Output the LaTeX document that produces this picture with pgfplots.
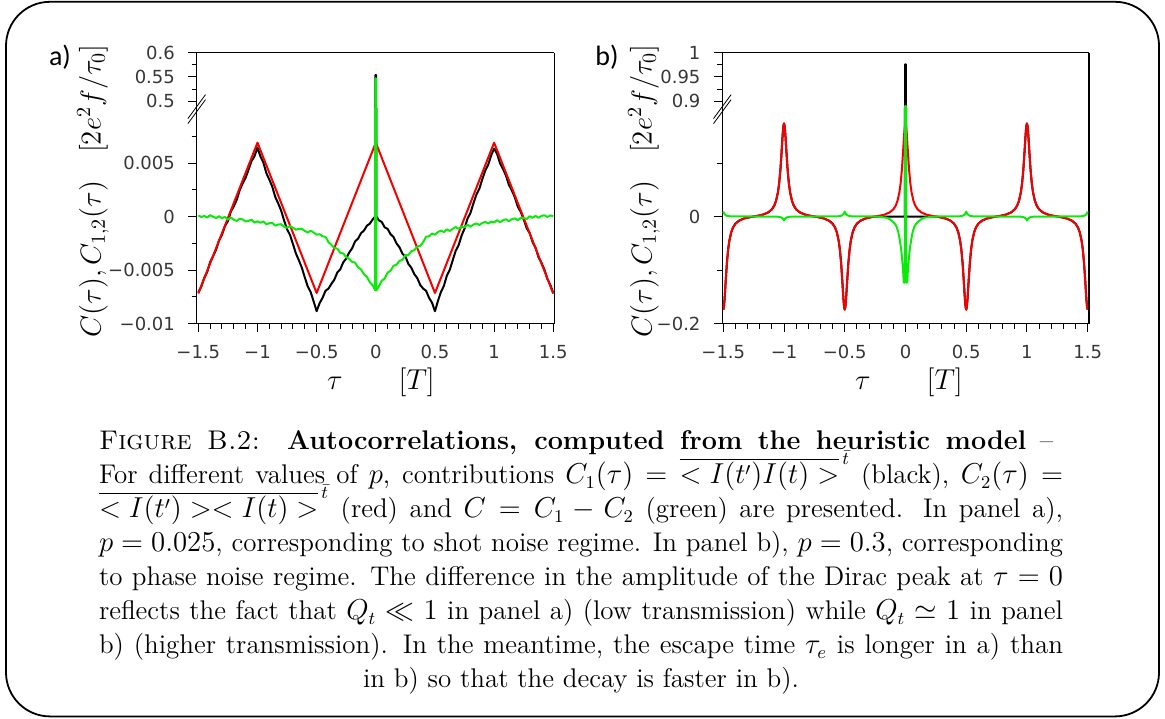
\documentclass[border=0pt]{standalone}
\usepackage{pgfplots}
\pgfplotsset{compat=1.18}
\usepackage{pgfplotstable}
\usepackage{fontspec}
\newfontfamily\dejavu{DejaVu Sans}
\newfontfamily\carlito{Carlito}
\definecolor{tickgray}{RGB}{55,55,55}
\definecolor{cgreen}{RGB}{10,235,10}
\definecolor{cred}{RGB}{245,0,0}

% ---------------- panel a data ----------------
\pgfplotstableread{
t y
-1.500 0.00010
-1.475 -0.00005
-1.450 0.00006
-1.425 -0.00010
-1.400 0.00012
-1.375 -0.00002
-1.350 -0.00014
-1.325 0.00003
-1.300 -0.00015
-1.275 -0.00004
-1.250 -0.00028
-1.225 -0.00010
-1.200 -0.00030
-1.175 -0.00041
-1.150 -0.00020
-1.125 -0.00028
-1.100 -0.00046
-1.075 -0.00040
-1.050 -0.00030
-1.025 -0.00057
-1.000 -0.00045
-0.975 -0.00058
-0.950 -0.00046
-0.925 -0.00073
-0.900 -0.00063
-0.875 -0.00060
-0.850 -0.00085
-0.825 -0.00075
-0.800 -0.00072
-0.775 -0.00095
-0.750 -0.00105
-0.725 -0.00090
-0.700 -0.00105
-0.675 -0.00123
-0.650 -0.00115
-0.625 -0.00115
-0.600 -0.00135
-0.575 -0.00150
-0.550 -0.00132
-0.525 -0.00150
-0.500 -0.00170
-0.475 -0.00165
-0.450 -0.00185
-0.425 -0.00190
-0.400 -0.00240
-0.375 -0.00265
-0.350 -0.00295
-0.325 -0.00300
-0.300 -0.00340
-0.275 -0.00345
-0.250 -0.00380
-0.225 -0.00395
-0.200 -0.00425
-0.175 -0.00430
-0.150 -0.00475
-0.125 -0.00495
-0.100 -0.00540
-0.075 -0.00565
-0.050 -0.00615
-0.025 -0.00645
-0.005 -0.00690
-0.003 0.547
0.003 0.547
0.005 -0.00690
0.025 -0.00655
0.050 -0.00600
0.075 -0.00580
0.100 -0.00525
0.125 -0.00505
0.150 -0.00460
0.175 -0.00450
0.200 -0.00415
0.225 -0.00405
0.250 -0.00360
0.275 -0.00360
0.300 -0.00325
0.325 -0.00315
0.350 -0.00280
0.375 -0.00275
0.400 -0.00240
0.425 -0.00190
0.450 -0.00185
0.475 -0.00160
0.500 -0.00170
0.525 -0.00145
0.550 -0.00132
0.575 -0.00145
0.600 -0.00120
0.625 -0.00135
0.650 -0.00115
0.675 -0.00098
0.700 -0.00115
0.725 -0.00095
0.750 -0.00100
0.775 -0.00077
0.800 -0.00095
0.825 -0.00075
0.850 -0.00065
0.875 -0.00080
0.900 -0.00060
0.925 -0.00050
0.950 -0.00066
0.975 -0.00048
1.000 -0.00055
1.025 -0.00034
1.050 -0.00053
1.075 -0.00035
1.100 -0.00026
1.125 -0.00043
1.150 -0.00025
1.175 -0.00018
1.200 -0.00035
1.225 -0.00012
1.250 -0.00013
1.275 -0.00024
1.300 0.00003
1.325 -0.00012
1.350 0.00006
1.375 -0.00012
1.400 0.00005
1.425 0.00012
1.450 -0.00004
1.475 0.00010
1.500 0.00003
}\greenA

\pgfplotstableread{
t y
-1.500 -0.00710
-1.475 -0.00655
-1.450 -0.00573
-1.425 -0.00519
-1.400 -0.00426
-1.375 -0.00370
-1.350 -0.00311
-1.325 -0.00224
-1.300 -0.00171
-1.275 -0.00090
-1.250 -0.00043
-1.225 0.00046
-1.200 0.00096
-1.175 0.00156
-1.150 0.00247
-1.125 0.00310
-1.100 0.00362
-1.075 0.00439
-1.050 0.00519
-1.025 0.00563
-1.000 0.00645
-0.975 0.00562
-0.950 0.00504
-0.925 0.00406
-0.900 0.00346
-0.875 0.00279
-0.850 0.00184
-0.825 0.00123
-0.800 0.00056
-0.775 -0.00037
-0.750 -0.00118
-0.725 -0.00173
-0.700 -0.00258
-0.675 -0.00346
-0.650 -0.00409
-0.625 -0.00479
-0.600 -0.00569
-0.575 -0.00654
-0.550 -0.00707
-0.525 -0.00795
-0.500 -0.00885
-0.475 -0.00810
-0.450 -0.00760
-0.425 -0.00694
-0.400 -0.00674
-0.375 -0.00629
-0.350 -0.00589
-0.325 -0.00523
-0.300 -0.00493
-0.275 -0.00428
-0.250 -0.00393
-0.225 -0.00337
-0.200 -0.00297
-0.175 -0.00232
-0.150 -0.00207
-0.125 -0.00156
-0.100 -0.00131
-0.075 -0.00086
-0.050 -0.00066
-0.025 -0.00025
-0.005 0.00000
-0.003 0.554
0.003 0.554
0.005 0.00000
0.025 -0.00035
0.050 -0.00051
0.075 -0.00101
0.100 -0.00116
0.125 -0.00166
0.150 -0.00192
0.175 -0.00252
0.200 -0.00287
0.225 -0.00347
0.250 -0.00373
0.275 -0.00443
0.300 -0.00478
0.325 -0.00538
0.350 -0.00574
0.375 -0.00639
0.400 -0.00674
0.425 -0.00694
0.450 -0.00760
0.475 -0.00805
0.500 -0.00885
0.525 -0.00790
0.550 -0.00707
0.575 -0.00649
0.600 -0.00554
0.625 -0.00499
0.650 -0.00409
0.675 -0.00321
0.700 -0.00268
0.725 -0.00178
0.750 -0.00113
0.775 -0.00019
0.800 0.00033
0.825 0.00123
0.850 0.00204
0.875 0.00259
0.900 0.00349
0.925 0.00429
0.950 0.00484
0.975 0.00572
1.000 0.00635
1.025 0.00586
1.050 0.00496
1.075 0.00444
1.100 0.00382
1.125 0.00295
1.150 0.00242
1.175 0.00179
1.200 0.00091
1.225 0.00044
1.250 -0.00028
1.275 -0.00110
1.300 -0.00153
1.325 -0.00239
1.350 -0.00291
1.375 -0.00380
1.400 -0.00433
1.425 -0.00497
1.450 -0.00583
1.475 -0.00640
1.500 -0.00717
}\blackA

\pgfplotstableread{
t y
-1.5 -0.0072
-1.0 0.0069
-0.5 -0.00715
0.0 0.0069
0.5 -0.00715
1.0 0.0069
1.5 -0.0072
}\redA

% ---------------- panel b data ----------------
\pgfplotstableread{
t y
-1.500 -0.174
-1.495 -0.1693
-1.490 -0.1565
-1.485 -0.139
-1.480 -0.1202
-1.470 -0.0865
-1.460 -0.062
-1.450 -0.0453
-1.435 -0.0297
-1.420 -0.0205
-1.400 -0.0134
-1.370 -0.0077
-1.330 -0.0038
-1.290 -0.0016
-1.250 0
-1.210 0.0016
-1.170 0.0038
-1.130 0.0077
-1.100 0.0134
-1.080 0.0205
-1.065 0.0297
-1.050 0.0453
-1.040 0.062
-1.030 0.0865
-1.020 0.1202
-1.015 0.139
-1.010 0.1565
-1.005 0.1693
-1.000 0.174
-0.995 0.1693
-0.990 0.1565
-0.985 0.139
-0.980 0.1202
-0.970 0.0865
-0.960 0.062
-0.950 0.0453
-0.935 0.0297
-0.920 0.0205
-0.900 0.0134
-0.870 0.0077
-0.830 0.0038
-0.790 0.0016
-0.750 0
-0.710 -0.0016
-0.670 -0.0038
-0.630 -0.0077
-0.600 -0.0134
-0.580 -0.0205
-0.565 -0.0297
-0.550 -0.0453
-0.540 -0.062
-0.530 -0.0865
-0.520 -0.1202
-0.515 -0.139
-0.510 -0.1565
-0.505 -0.1693
-0.500 -0.174
-0.495 -0.1693
-0.490 -0.1565
-0.485 -0.139
-0.480 -0.1202
-0.470 -0.0865
-0.460 -0.062
-0.450 -0.0453
-0.435 -0.0297
-0.420 -0.0205
-0.400 -0.0134
-0.370 -0.0077
-0.330 -0.0038
-0.290 -0.0016
-0.250 0
-0.210 0.0016
-0.170 0.0038
-0.130 0.0077
-0.100 0.0134
-0.080 0.0205
-0.065 0.0297
-0.050 0.0453
-0.040 0.062
-0.030 0.0865
-0.020 0.1202
-0.015 0.139
-0.010 0.1565
-0.005 0.1693
0.000 0.174
0.005 0.1693
0.010 0.1565
0.015 0.139
0.020 0.1202
0.030 0.0865
0.040 0.062
0.050 0.0453
0.065 0.0297
0.080 0.0205
0.100 0.0134
0.130 0.0077
0.170 0.0038
0.210 0.0016
0.250 0
0.290 -0.0016
0.330 -0.0038
0.370 -0.0077
0.400 -0.0134
0.420 -0.0205
0.435 -0.0297
0.450 -0.0453
0.460 -0.062
0.470 -0.0865
0.480 -0.1202
0.485 -0.139
0.490 -0.1565
0.495 -0.1693
0.500 -0.174
0.505 -0.1693
0.510 -0.1565
0.515 -0.139
0.520 -0.1202
0.530 -0.0865
0.540 -0.062
0.550 -0.0453
0.565 -0.0297
0.580 -0.0205
0.600 -0.0134
0.630 -0.0077
0.670 -0.0038
0.710 -0.0016
0.750 0
0.790 0.0016
0.830 0.0038
0.870 0.0077
0.900 0.0134
0.920 0.0205
0.935 0.0297
0.950 0.0453
0.960 0.062
0.970 0.0865
0.980 0.1202
0.985 0.139
0.990 0.1565
0.995 0.1693
1.000 0.174
1.005 0.1693
1.010 0.1565
1.015 0.139
1.020 0.1202
1.030 0.0865
1.040 0.062
1.050 0.0453
1.065 0.0297
1.080 0.0205
1.100 0.0134
1.130 0.0077
1.170 0.0038
1.210 0.0016
1.250 0
1.290 -0.0016
1.330 -0.0038
1.370 -0.0077
1.400 -0.0134
1.420 -0.0205
1.435 -0.0297
1.450 -0.0453
1.460 -0.062
1.470 -0.0865
1.480 -0.1202
1.485 -0.139
1.490 -0.1565
1.495 -0.1693
1.500 -0.174
}\redB

\pgfplotstableread{
t y
-1.500 -0.174
-1.495 -0.1693
-1.490 -0.1565
-1.485 -0.139
-1.480 -0.1202
-1.470 -0.0865
-1.460 -0.062
-1.450 -0.0453
-1.435 -0.0297
-1.420 -0.0205
-1.400 -0.0134
-1.370 -0.0077
-1.330 -0.0038
-1.290 -0.0016
-1.250 0
-1.210 0.0016
-1.170 0.0038
-1.130 0.0077
-1.100 0.0134
-1.080 0.0205
-1.065 0.0297
-1.050 0.0453
-1.040 0.062
-1.030 0.0865
-1.020 0.1202
-1.015 0.139
-1.010 0.1565
-1.005 0.1693
-1.000 0.174
-0.995 0.1693
-0.990 0.1565
-0.985 0.139
-0.980 0.1202
-0.970 0.0865
-0.960 0.062
-0.950 0.0453
-0.935 0.0297
-0.920 0.0205
-0.900 0.0134
-0.870 0.0077
-0.830 0.0038
-0.790 0.0016
-0.750 0
-0.710 -0.0016
-0.670 -0.0038
-0.630 -0.0077
-0.600 -0.0134
-0.580 -0.0205
-0.565 -0.0297
-0.550 -0.0453
-0.540 -0.062
-0.530 -0.0865
-0.520 -0.1202
-0.515 -0.139
-0.510 -0.1565
-0.505 -0.1693
-0.500 -0.174
-0.495 -0.1693
-0.490 -0.1565
-0.485 -0.139
-0.480 -0.1202
-0.470 -0.0865
-0.460 -0.062
-0.450 -0.0453
-0.435 -0.0297
-0.420 -0.0205
-0.400 -0.0134
-0.370 -0.0077
-0.330 -0.0038
-0.290 -0.0016
-0.250 0
-0.005 0
-0.003 0.976
0.003 0.976
0.005 0
0.250 0
0.290 -0.0016
0.330 -0.0038
0.370 -0.0077
0.400 -0.0134
0.420 -0.0205
0.435 -0.0297
0.450 -0.0453
0.460 -0.062
0.470 -0.0865
0.480 -0.1202
0.485 -0.139
0.490 -0.1565
0.495 -0.1693
0.500 -0.174
0.505 -0.1693
0.510 -0.1565
0.515 -0.139
0.520 -0.1202
0.530 -0.0865
0.540 -0.062
0.550 -0.0453
0.565 -0.0297
0.580 -0.0205
0.600 -0.0134
0.630 -0.0077
0.670 -0.0038
0.710 -0.0016
0.750 0
0.790 0.0016
0.830 0.0038
0.870 0.0077
0.900 0.0134
0.920 0.0205
0.935 0.0297
0.950 0.0453
0.960 0.062
0.970 0.0865
0.980 0.1202
0.985 0.139
0.990 0.1565
0.995 0.1693
1.000 0.174
1.005 0.1693
1.010 0.1565
1.015 0.139
1.020 0.1202
1.030 0.0865
1.040 0.062
1.050 0.0453
1.065 0.0297
1.080 0.0205
1.100 0.0134
1.130 0.0077
1.170 0.0038
1.210 0.0016
1.250 0
1.290 -0.0016
1.330 -0.0038
1.370 -0.0077
1.400 -0.0134
1.420 -0.0205
1.435 -0.0297
1.450 -0.0453
1.460 -0.062
1.470 -0.0865
1.480 -0.1202
1.485 -0.139
1.490 -0.1565
1.495 -0.1693
1.500 -0.174
}\blackB

\pgfplotstableread{
t y
-1.500 0.0093
-1.495 0.0065
-1.490 0.0045
-1.480 0.0025
-1.465 0.0010
-1.440 0.0002
-1.250 0
-1.060 -0.0002
-1.035 -0.0008
-1.020 -0.0020
-1.010 -0.0038
-1.005 -0.0055
-1.000 -0.0075
-0.995 -0.0055
-0.990 -0.0038
-0.980 -0.0020
-0.965 -0.0008
-0.940 -0.0002
-0.750 0
-0.560 0.0002
-0.535 0.0010
-0.520 0.0025
-0.510 0.0045
-0.505 0.0065
-0.500 0.0093
-0.495 0.0065
-0.490 0.0045
-0.480 0.0025
-0.465 0.0010
-0.440 0.0002
-0.250 0
-0.160 -0.0020
-0.130 -0.0050
-0.100 -0.0105
-0.085 -0.0145
-0.074 -0.0187
-0.060 -0.0280
-0.047 -0.0436
-0.036 -0.0600
-0.027 -0.0810
-0.020 -0.1000
-0.014 -0.1234
-0.005 -0.1234
-0.003 0.890
0.003 0.890
0.005 -0.1234
0.014 -0.1234
0.020 -0.1000
0.027 -0.0810
0.036 -0.0600
0.047 -0.0436
0.060 -0.0280
0.074 -0.0187
0.085 -0.0145
0.100 -0.0105
0.130 -0.0050
0.160 -0.0020
0.250 0
0.440 0.0002
0.465 0.0010
0.480 0.0025
0.490 0.0045
0.495 0.0065
0.500 0.0093
0.505 0.0065
0.510 0.0045
0.520 0.0025
0.535 0.0010
0.560 0.0002
0.750 0
0.940 -0.0002
0.965 -0.0008
0.980 -0.0020
0.990 -0.0038
0.995 -0.0055
1.000 -0.0075
1.005 -0.0055
1.010 -0.0038
1.020 -0.0020
1.035 -0.0008
1.060 -0.0002
1.250 0
1.440 0.0002
1.465 0.0010
1.480 0.0025
1.490 0.0045
1.495 0.0065
1.500 0.0093
}\greenB

\pgfplotsset{
  panel/.style={
    scale only axis,
    axis line style={line width=0.65pt},
    every tick/.style={black, line width=0.5pt},
    every minor tick/.style={black, line width=0.5pt},
    tick align=outside,
    major tick length=4.2pt,
    minor tick length=2.6pt,
    tick label style={font=\dejavu\fontsize{9}{11}\selectfont, text=tickgray},
    xticklabel style={yshift=-3pt},
    yticklabel style={xshift=-3.2pt},
    scaled ticks=false,
    ytick pos=left,
    every axis plot/.append style={line width=1pt, line join=round},
  },
}

\begin{document}
\begin{tikzpicture}
\useasboundingbox (0,0) rectangle (582.5pt,-359pt);
\draw[line width=0.9pt, rounded corners=22pt] (3pt,-0.9pt) rectangle (579.5pt,-358.2pt);

% ===== panel a, lower part =====
\begin{axis}[panel, at={(98.35pt,-161.75pt)}, anchor=south west,
  width=178.8pt, height=107.75pt,
  xmin=-1.5135, xmax=1.5085, ymin=-0.01, ymax=0.01014,
  axis x line*=bottom,
  xtick={-1.5,-1,-0.5,0,0.5,1,1.5},
  xticklabels={−1.5,−1,−0.5,0,0.5,1,1.5},
  minor x tick num=4,
  ytick={-0.01,-0.005,0,0.005},
  yticklabels={−0.01,−0.005,0,0.005},
  minor ytick={-0.0075,-0.0025,0.0025,0.0075}]
\addplot[black] table[x=t,y=y] {\blackA};
\addplot[cred] table[x=t,y=y] {\redA};
\addplot[cgreen] table[x=t,y=y] {\greenA};
\end{axis}
% ===== panel a, upper part =====
\begin{axis}[panel, at={(98.35pt,-54pt)}, anchor=south west,
  width=178.8pt, height=27.65pt,
  xmin=-1.5135, xmax=1.5085, ymin=0.486, ymax=0.6,
  axis x line*=top, xtick=\empty,
  ytick={0.5,0.55,0.6}, yticklabels={0.5,0.55,0.6},
  minor ytick={0.525,0.575}]
\addplot[black] table[x=t,y=y] {\blackA};
\addplot[cred] table[x=t,y=y] {\redA};
\addplot[cgreen] table[x=t,y=y] {\greenA};
\end{axis}

% ===== panel b, lower part =====
\begin{axis}[panel, at={(361.15pt,-161.75pt)}, anchor=south west,
  width=183.35pt, height=107.75pt,
  xmin=-1.508, xmax=1.511, ymin=-0.2, ymax=0.2028,
  axis x line*=bottom,
  xtick={-1.5,-1,-0.5,0,0.5,1,1.5},
  xticklabels={−1.5,−1,−0.5,0,0.5,1,1.5},
  minor x tick num=4,
  ytick={-0.2,0},
  yticklabels={−0.2,0},
  minor ytick={-0.1,0.1}]
\addplot[black] table[x=t,y=y] {\blackB};
\addplot[cred] table[x=t,y=y] {\redB};
\addplot[cgreen] table[x=t,y=y] {\greenB};
\end{axis}
% ===== panel b, upper part =====
\begin{axis}[panel, at={(361.15pt,-54pt)}, anchor=south west,
  width=183.35pt, height=27.65pt,
  xmin=-1.508, xmax=1.511, ymin=0.886, ymax=1,
  axis x line*=top, xtick=\empty,
  ytick={0.9,0.95,1}, yticklabels={0.9,0.95,1},
  minor ytick={0.925,0.975}]
\addplot[black] table[x=t,y=y] {\blackB};
\addplot[cred] table[x=t,y=y] {\redB};
\addplot[cgreen] table[x=t,y=y] {\greenB};
\end{axis}

% break marks
\foreach \xx in {98.35pt,361.15pt}{
  \draw[line width=0.4pt] ([xshift=-4.4pt]\xx,-59.3pt) -- ([xshift=4.4pt]\xx,-47.3pt);
  \draw[line width=0.4pt] ([xshift=-4.4pt]\xx,-61.8pt) -- ([xshift=4.4pt]\xx,-49.8pt);
}

% panel letters
\node[font=\carlito\fontsize{14}{16}\selectfont] at (30pt,-28.6pt) {a)};
\node[font=\carlito\fontsize{14}{16}\selectfont] at (303.5pt,-28.6pt) {b)};

% axis labels
\node[rotate=90, font=\fontsize{14}{16}\selectfont] at (46.5pt,-95.5pt) {$C(\tau),C_{1,2}(\tau)\quad[2e^2f/\tau_0]$};
\node[rotate=90, font=\fontsize{14}{16}\selectfont] at (322pt,-95.5pt) {$C(\tau),C_{1,2}(\tau)\quad[2e^2f/\tau_0]$};
\node[font=\fontsize{14}{16}\selectfont] at (190.5pt,-191pt) {$\tau\qquad[T]$};
\node[font=\fontsize{14}{16}\selectfont] at (454.5pt,-191pt) {$\tau\qquad[T]$};

% caption
\node[anchor=north west, inner sep=0pt] at (49.3pt,-215.3pt) {%
\vbox{\hsize=482pt \fontsize{13.5}{17}\selectfont \baselineskip=17pt \lineskiplimit=-30pt \parindent=0pt
\hbox to 477pt{\textsc{Figure B.2:}\ \ \textbf{Autocorrelations, computed from the heuristic model} --}
\hbox to \hsize{For different values of $p$, contributions $C_1(\tau) = \overline{<I(t')I(t)>}^{\,\bar{t}}$ (black), $C_2(\tau) =$}
\hbox to \hsize{$\overline{<I(t')><I(t)>}^{\,\bar{t}}$ (red) and $C = C_1 - C_2$ (green) are presented. In panel a),}
\hbox to \hsize{$p = 0.025$, corresponding to shot noise regime. In panel b), $p = 0.3$, corresponding}
\hbox to \hsize{to phase noise regime. The difference in the amplitude of the Dirac peak at $\tau = 0$}
\hbox to \hsize{reflects the fact that $Q_t \ll 1$ in panel a) (low transmission) while $Q_t \simeq 1$ in panel}
\hbox to \hsize{b) (higher transmission). In the meantime, the escape time $\tau_e$ is longer in a) than}
\hbox to \hsize{\hfil in b) so that the decay is faster in b).\hfil}
}};
\end{tikzpicture}
\end{document}
